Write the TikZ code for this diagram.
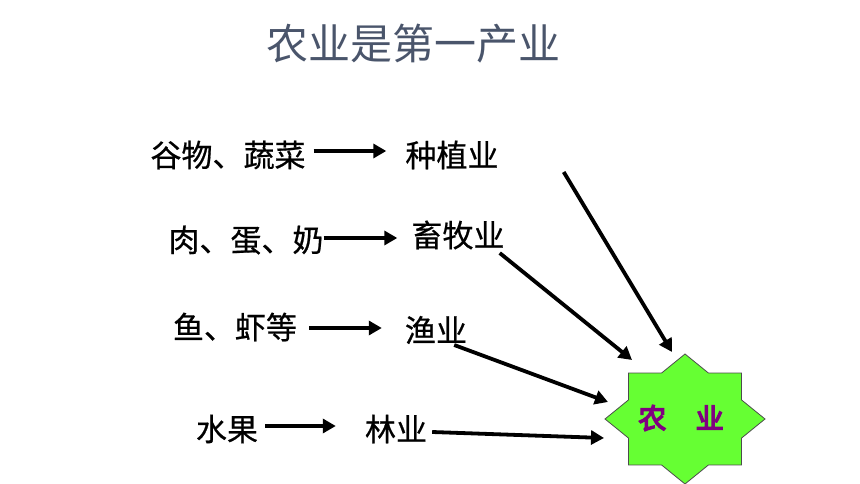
\documentclass[tikz,border=0pt]{standalone}
\usepackage{fontspec}
\setmainfont{Noto Sans CJK SC}
\newfontfamily\cjkfont[FakeBold=0.6]{Noto Sans CJK SC}
\newfontfamily\titlefont{Noto Sans CJK SC}
\newfontfamily\cjkbold[FakeBold=5]{Noto Sans CJK SC}
\usetikzlibrary{arrows.meta}
\definecolor{titlecol}{HTML}{4A556B}
\definecolor{stargreen}{HTML}{66FF33}
\definecolor{starpurple}{HTML}{800080}
\tikzset{
  txt/.style={inner sep=0pt, font=\cjkfont\fontsize{31}{31}\selectfont, text=black},
  arr/.style={line width=3.8pt, -{Triangle[length=13pt,width=14pt]}},
}
\begin{document}
\begin{tikzpicture}[x=1pt,y=-1pt]
\useasboundingbox (0,0) rectangle (860,484);
% title
\node[inner sep=0pt, text=titlecol, font=\titlefont\fontsize{42}{42}\selectfont] (title) at (413,44) {农业是第一产业};
% left column
\node[txt] (a1) at (228,155) {谷物、蔬菜};
\node[txt] (a2) at (246,240) {肉、蛋、奶};
\node[txt] (a3) at (235,327) {鱼、虾等};
\node[txt] (a4) at (227,429) {水果};
% middle column
\node[txt] (b1) at (452,155) {种植业};
\node[txt] (b2) at (458,235) {畜牧业};
\node[txt] (b3) at (436,330) {渔业};
\node[txt] (b4) at (396,429) {林业};
% row arrows
\draw[arr] ([xshift=8pt,yshift=4pt]a1.east) -- ([xshift=-19pt,yshift=4pt]b1.west);
\draw[arr] ([xshift=0pt,yshift=2pt]a2.east) -- ([xshift=-14pt,yshift=-3pt]b2.west);
\draw[arr] ([xshift=12pt,yshift=-1pt]a3.east) -- ([xshift=-23pt,yshift=2pt]b3.west);
\draw[arr] ([xshift=7pt,yshift=3pt]a4.east) -- ([xshift=-29pt,yshift=3pt]b4.west);
% star
\def\rx{80}\def\ry{65}
\fill[stargreen, draw=black!70, line width=0.8pt]
  (685,419-\ry)
  -- (685+0.2929*\rx,419-0.7071*\ry) -- (685+0.7071*\rx,419-0.7071*\ry)
  -- (685+0.7071*\rx,419-0.2929*\ry) -- (685+\rx,419)
  -- (685+0.7071*\rx,419+0.2929*\ry) -- (685+0.7071*\rx,419+0.7071*\ry)
  -- (685+0.2929*\rx,419+0.7071*\ry) -- (685,419+\ry)
  -- (685-0.2929*\rx,419+0.7071*\ry) -- (685-0.7071*\rx,419+0.7071*\ry)
  -- (685-0.7071*\rx,419+0.2929*\ry) -- (685-\rx,419)
  -- (685-0.7071*\rx,419-0.2929*\ry) -- (685-0.7071*\rx,419-0.7071*\ry)
  -- (685-0.2929*\rx,419-0.7071*\ry) -- cycle;
\node[inner sep=0pt, text=starpurple, font=\cjkbold\fontsize{28}{28}\selectfont] (ny) at (681,418) {农\hspace{1.05em}业};
% diagonal arrows
\coordinate (s1) at ([xshift=65pt,yshift=-17pt]b1.east);
\coordinate (s2) at ([xshift=-5pt,yshift=-18pt]b2.east);
\coordinate (s3) at ([xshift=-13pt,yshift=-15pt]b3.east);
\coordinate (s4) at ([xshift=5pt,yshift=-3pt]b4.east);
\coordinate (e1) at ([xshift=-9pt,yshift=66pt]ny.center);
\coordinate (e2) at ([xshift=-49pt,yshift=58pt]ny.center);
\coordinate (e3) at ([xshift=-73pt,yshift=16pt]ny.center);
\coordinate (e4) at ([xshift=-77pt,yshift=-20pt]ny.center);
\draw[arr] (s1) -- (e1);
\draw[arr] (s2) -- (e2);
\draw[arr] (s3) -- (e3);
\draw[arr] (s4) -- (e4);
\end{tikzpicture}
\end{document}
